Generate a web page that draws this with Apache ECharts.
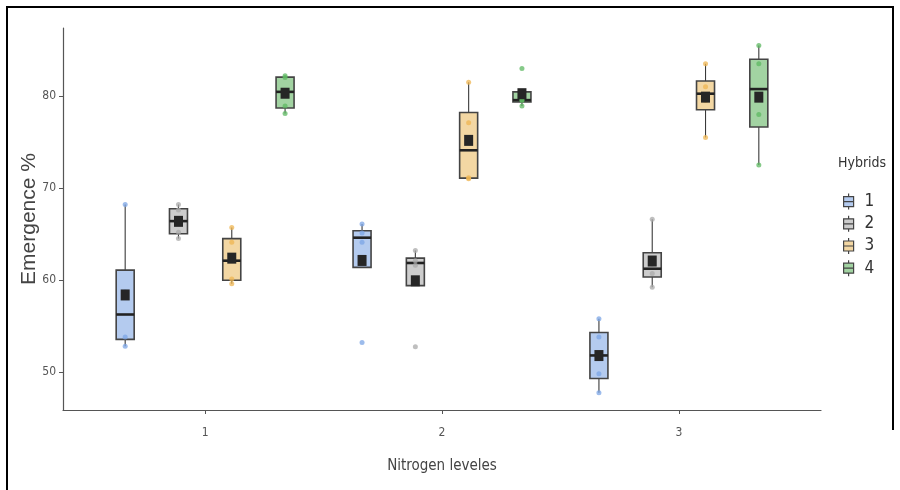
<!DOCTYPE html>
<html><head><meta charset="utf-8">
<script src="https://cdn.jsdelivr.net/npm/echarts@6/dist/echarts.min.js"></script>
<style>html,body{margin:0;padding:0;background:#fff}#c{width:900px;height:490px}</style>
</head><body><div id="c"></div>
<script>
// ---- data ----
const nitrogenLevels = [1, 2, 3];
const hybrids = ['1', '2', '3', '4'];
const yTickValues = [50, 60, 70, 80];
// replicate values (4 per box) for each nitrogen level
const hybrid1 = [[52.8, 53.8, 58.7, 68.2], [53.2, 64.1, 65.1, 66.1], [47.75, 49.8, 53.8, 55.8]];
const hybrid2 = [[64.5, 65.2, 67.6, 68.2], [52.75, 61.6, 62.1, 63.2], [59.2, 60.7, 61.75, 66.6]];
const hybrid3 = [[59.6, 60.1, 64.1, 65.7], [71.0, 71.1, 77.1, 81.5], [75.5, 79.5, 81.0, 83.5]];
const hybrid4 = [[78.1, 78.9, 82.0, 82.2], [78.9, 79.5, 79.6, 83.0], [72.5, 78.0, 83.5, 85.5]];
const hybridValues = [hybrid1, hybrid2, hybrid3, hybrid4];

// ---- styles ----
const fillColors = ['#b4cbef', '#cdcdcd', '#f3d7a3', '#a2d3a2'];
const pointColors = ['#7ca5e6', '#a9a9a9', '#efb552', '#5db862'];
const narrow = '"Liberation Sans Narrow", "DejaVu Sans Condensed", "Liberation Sans", Arial, sans-serif';
const dodge = 0.225, boxWidth = 0.076;

// boxplot statistics (R quantile type 7, 1.5*IQR whiskers)
function q7(s, p) { const h = (s.length - 1) * p, lo = Math.floor(h); const hi = Math.min(lo + 1, s.length - 1); return s[lo] + (h - lo) * (s[hi] - s[lo]); }
function boxStats(arr) {
  const s = arr.slice().sort((a, b) => a - b);
  const q1 = q7(s, 0.25), med = q7(s, 0.5), q3 = q7(s, 0.75), iqr = q3 - q1;
  const inl = s.filter(v => v >= q1 - 1.5 * iqr && v <= q3 + 1.5 * iqr);
  const mean = s.reduce((a, b) => a + b, 0) / s.length;
  return [Math.min(...inl), q1, med, q3, Math.max(...inl), mean];
}

function renderItem(params, api) {
  const k = params.seriesIndex;
  const xc = api.value(0) + (k - 1.5) * dodge;
  const hw = api.size([boxWidth, 0])[0] / 2;
  const p = v => api.coord([xc, v]);
  const [cx, yLo] = p(api.value(1));
  const yQ1 = p(api.value(2))[1], yMed = p(api.value(3))[1], yQ3 = p(api.value(4))[1];
  const yHi = p(api.value(5))[1], yMean = p(api.value(6))[1];
  const stroke = '#3a3a3a';
  const ch = [];
  if (yLo > yQ1) ch.push({ type: 'line', shape: { x1: cx, y1: yQ1, x2: cx, y2: yLo }, style: { stroke: stroke, lineWidth: 1.1 } });
  if (yHi < yQ3) ch.push({ type: 'line', shape: { x1: cx, y1: yQ3, x2: cx, y2: yHi }, style: { stroke: stroke, lineWidth: 1.1 } });
  ch.push({ type: 'rect', shape: { x: cx - hw, y: yQ3, width: 2 * hw, height: yQ1 - yQ3 }, style: { fill: fillColors[k], stroke: '#444', lineWidth: 1.6 } });
  ch.push({ type: 'line', shape: { x1: cx - hw, y1: yMed, x2: cx + hw, y2: yMed }, style: { stroke: '#222', lineWidth: 2.6 } });
  for (let j = 7; j < 11; j++) {
    const y = p(api.value(j))[1];
    ch.push({ type: 'circle', shape: { cx: cx, cy: y, r: 2.5 }, style: { fill: pointColors[k], opacity: 0.75 } });
  }
  ch.push({ type: 'rect', shape: { x: cx - 4.5, y: yMean - 5.5, width: 9, height: 11 }, style: { fill: '#262626' } });
  return { type: 'group', children: ch };
}

const series = hybrids.map((h, k) => ({
  name: h,
  type: 'custom',
  renderItem: renderItem,
  itemStyle: { color: fillColors[k] },
  encode: { x: 0, y: [1, 2, 3, 4, 5] },
  data: nitrogenLevels.map((lv, i) => [lv].concat(boxStats(hybridValues[k][i]), hybridValues[k][i])),
  z: 2
}));

const legendIcon = 'path://M5,0L5,3M0,3L10,3L10,13L0,13ZM0,8L10,8M5,13L5,16';

const chart = echarts.init(document.getElementById('c'), null, { renderer: 'canvas' });
chart.setOption({
  animation: false,
  backgroundColor: '#fff',
  grid: { left: 63, right: 79, top: 28, bottom: 80 },
  title: { text: 'Hybrids', left: 838, top: 156, padding: 0, textStyle: { fontFamily: narrow, fontSize: 14, fontWeight: 'normal', color: '#333' } },
  legend: {
    orient: 'vertical', left: 843, top: 193, padding: 0, itemGap: 5, itemWidth: 10, itemHeight: 17,
    selectedMode: false,
    textStyle: { fontFamily: narrow, fontSize: 17, color: '#333', padding: [0, 0, 0, 6] },
    data: hybrids.map((h, k) => ({ name: h, icon: legendIcon, itemStyle: { color: fillColors[k], borderColor: '#444', borderWidth: 1.2 } }))
  },
  xAxis: {
    type: 'value', min: 0.4, max: 3.6,
    name: 'Nitrogen leveles', nameLocation: 'middle', nameGap: 49, nameMoveOverlap: false,
    nameTextStyle: { fontFamily: narrow, fontSize: 15, color: '#444' },
    splitLine: { show: false },
    axisLine: { onZero: false, lineStyle: { color: '#555', width: 1.2 } },
    axisTick: { customValues: nitrogenLevels, length: 4, lineStyle: { color: '#555' } },
    axisLabel: { customValues: nitrogenLevels, margin: 17, fontFamily: narrow, fontSize: 12, color: '#555' }
  },
  yAxis: {
    type: 'value', min: 45.87, max: 87.39,
    name: 'Emergence %', nameLocation: 'middle', nameGap: 23, nameMoveOverlap: false,
    nameTextStyle: { fontFamily: '"Liberation Sans", Arial, sans-serif', fontSize: 21, color: '#444' },
    splitLine: { show: false },
    axisLine: { show: true, onZero: false, lineStyle: { color: '#555', width: 1.2 } },
    axisTick: { show: true, customValues: yTickValues, length: 4, lineStyle: { color: '#555' } },
    axisLabel: { customValues: yTickValues, margin: 7, fontFamily: narrow, fontSize: 12, color: '#555' }
  },
  graphic: [
    { type: 'line', shape: { x1: 6, y1: 7, x2: 894, y2: 7 }, style: { stroke: '#000', lineWidth: 2 }, silent: true },
    { type: 'line', shape: { x1: 7, y1: 6, x2: 7, y2: 490 }, style: { stroke: '#000', lineWidth: 2 }, silent: true },
    { type: 'line', shape: { x1: 893, y1: 6, x2: 893, y2: 430 }, style: { stroke: '#000', lineWidth: 2 }, silent: true }
  ],
  series: series
});
</script>
</body></html>
